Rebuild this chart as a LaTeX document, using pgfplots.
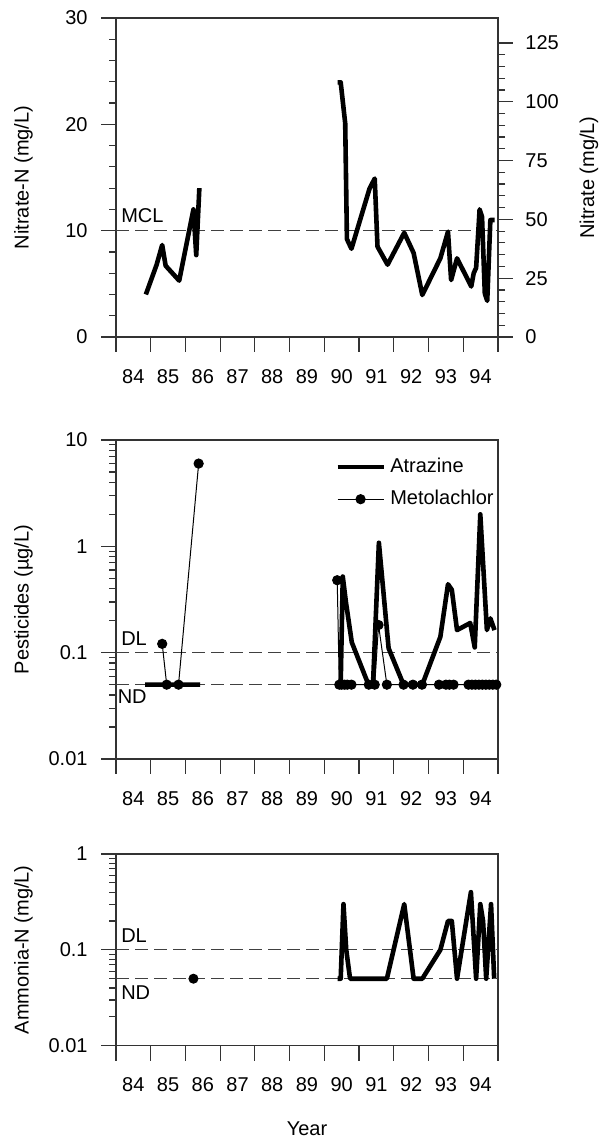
\documentclass[border=0pt]{standalone}
\usepackage{fontspec}
\setmainfont{Liberation Sans}
\usepackage{pgfplots}
\pgfplotsset{compat=1.18}

\newcommand\figfont{\fontsize{10}{12}\selectfont}

\pgfplotsset{
  common/.style={
    scale only axis, width=191pt,
    xmin=1984, xmax=1995,
    xtick={1984,...,1995},
    xticklabels={84,85,86,87,88,89,90,91,92,93,94,{}},
    xtick pos=lower, ytick pos=left,
    tick align=outside,
    major tick length=7.5pt, minor tick length=3.5pt,
    every tick/.style={black!80, line width=0.6pt},
    axis line style={black!80, line width=0.6pt},
    tick label style={font=\figfont},
    label style={font=\figfont},
    /pgf/number format/assume math mode=true,
    x tick label style={xshift=8.68pt, yshift=-5pt},
    y tick label style={xshift=-3.2pt},
    ylabel style={at={(axis description cs:-0.242,0.5)}, anchor=center},
    unbounded coords=jump,
  },
  dashref/.style={black!75, line width=0.5pt, dash pattern=on 6.5pt off 3pt, forget plot},
  thickline/.style={black, line width=2.3pt, line join=round},
  thinmark/.style={black, line width=0.5pt, mark=*, mark size=2.3pt, mark options={solid, fill=black}},
}

\begin{document}
\begin{tikzpicture}
\path[use as bounding box] (0,0) rectangle (300pt,570pt);

% nitrate
\begin{axis}[common, at={(58pt,401.5pt)}, anchor=south west, height=159.5pt,
  ymin=0, ymax=30, ytick={0,10,20,30}, minor y tick num=4,
  ylabel={Nitrate-N (mg/L)}]
\addplot[dashref] coordinates {(1984,10)(1995,10)};
\node[anchor=base west, inner sep=0pt, font=\figfont] at (axis cs:1984.14,10.72) {MCL};
\addplot[thickline] coordinates {
  (1984.86,4.0)(1985.17,6.8)(1985.33,8.65)(1985.43,6.7)(1985.82,5.3)
  (1986.23,12.0)(1986.31,7.7)(1986.40,14.0)
  (1988,nan)
  (1990.38,23.95)(1990.47,23.95)(1990.60,20.1)(1990.65,9.2)(1990.78,8.3)
  (1991.30,13.95)(1991.45,14.9)(1991.53,8.5)(1991.82,6.8)(1992.30,9.8)
  (1992.57,7.9)(1992.82,3.95)(1993.34,7.4)(1993.56,9.9)(1993.65,5.35)
  (1993.82,7.4)(1994.23,4.75)(1994.30,6.0)(1994.37,6.5)(1994.47,12.0)
  (1994.54,11.3)(1994.62,4.1)(1994.69,3.4)(1994.78,11.0)(1994.90,11.0)
};
\end{axis}
\begin{axis}[scale only axis, width=191pt, height=159.5pt,
  at={(58pt,401.5pt)}, anchor=south west,
  xmin=1984, xmax=1995, ymin=0, ymax=135.6,
  axis x line=none, axis y line*=right,
  ytick={0,25,50,75,100,125}, minor y tick num=4,
  tick align=outside,
  major tick length=7.5pt, minor tick length=3.5pt,
  every tick/.style={black!80, line width=0.6pt},
  axis line style={black!80, line width=0.6pt, -},
  tick label style={font=\figfont},
  label style={font=\figfont},
  /pgf/number format/assume math mode=true,
  y tick label style={xshift=2.7pt},
  ylabel={Nitrate (mg/L)},
  ylabel style={at={(axis description cs:1.238,0.5)}, anchor=center, rotate=0}]
\end{axis}

% pesticides
\begin{axis}[common, at={(58pt,190.5pt)}, anchor=south west, height=159.5pt,
  ymode=log, ymin=0.01, ymax=10,
  ytick={0.01,0.1,1,10}, yticklabels={0.01,0.1,1,10},
  minor ytick={0.02,0.03,0.04,0.05,0.06,0.07,0.08,0.09,
               0.2,0.3,0.4,0.5,0.6,0.7,0.8,0.9,
               2,3,4,5,6,7,8,9},
  ylabel={Pesticides (µg/L)},
  legend style={at={(axis description cs:0.573,0.958)}, anchor=north west,
    draw=none, fill=none, inner sep=0pt, row sep=3pt,
    font=\figfont, nodes={inner sep=2.2pt}},
  legend cell align=left,
  legend image code/.code={\draw[mark repeat=2,mark phase=2,#1] plot coordinates {(0pt,0pt)(11.5pt,0pt)(23pt,0pt)};}]
\addplot[dashref] coordinates {(1984,0.1)(1995,0.1)};
\addplot[dashref] coordinates {(1984,0.05)(1995,0.05)};
\node[anchor=base west, inner sep=0pt, font=\figfont] at (axis cs:1984.14,0.118) {DL};
\node[anchor=base west, inner sep=0pt, font=\figfont] at (axis cs:1984.04,0.0334) {ND};
\addplot[thickline] coordinates {
  (1984.84,0.05)(1985.17,0.05)(1985.33,0.05)(1985.46,0.05)(1985.80,0.05)
  (1986.23,0.05)(1986.42,0.05)
  (1988,nan)
  (1990.40,0.05)(1990.47,0.05)(1990.53,0.52)(1990.62,0.30)(1990.79,0.125)
  (1991.27,0.05)(1991.40,0.05)(1991.57,1.08)(1991.85,0.11)(1992.28,0.05)
  (1992.57,0.05)(1992.82,0.05)(1993.34,0.141)(1993.56,0.44)(1993.67,0.39)
  (1993.82,0.163)(1994.20,0.19)(1994.33,0.112)(1994.49,2.0)(1994.68,0.163)
  (1994.78,0.21)(1994.90,0.163)
};
\addlegendentry{Atrazine}
\addplot[thinmark] coordinates {
  (1985.33,0.121)(1985.46,0.05)(1985.80,0.05)(1986.38,6.0)
  (1988,nan)
  (1990.37,0.48)(1990.43,0.05)(1990.50,0.05)(1990.58,0.05)(1990.66,0.05)
  (1990.78,0.05)(1991.28,0.05)(1991.45,0.05)(1991.56,0.182)(1991.80,0.05)
  (1992.28,0.05)(1992.55,0.05)(1992.81,0.05)(1993.30,0.05)(1993.50,0.05)
  (1993.60,0.05)(1993.72,0.05)(1994.15,0.05)(1994.25,0.05)(1994.35,0.05)
  (1994.45,0.05)(1994.55,0.05)(1994.65,0.05)(1994.75,0.05)(1994.85,0.05)
  (1994.95,0.05)
};
\addlegendentry{Metolachlor}
\end{axis}

% ammonia
\begin{axis}[common, at={(58pt,47.15pt)}, anchor=south west, height=95.85pt,
  ymode=log, ymin=0.01, ymax=1,
  ytick={0.01,0.1,1}, yticklabels={0.01,0.1,1},
  minor ytick={0.02,0.03,0.04,0.05,0.06,0.07,0.08,0.09,
               0.2,0.3,0.4,0.5,0.6,0.7,0.8,0.9},
  ylabel={Ammonia-N (mg/L)},
  xlabel={Year},
  xlabel style={at={(axis description cs:0.5,0)}, yshift=-41.6pt, anchor=center}]
\addplot[dashref] coordinates {(1984,0.1)(1995,0.1)};
\addplot[dashref] coordinates {(1984,0.05)(1995,0.05)};
\node[anchor=base west, inner sep=0pt, font=\figfont] at (axis cs:1984.14,0.120) {DL};
\node[anchor=base west, inner sep=0pt, font=\figfont] at (axis cs:1984.14,0.0303) {ND};
\addplot[only marks, mark=*, mark size=2.3pt, black] coordinates {(1986.23,0.05)};
\addplot[thickline] coordinates {
  (1990.38,0.05)(1990.47,0.05)(1990.55,0.30)(1990.63,0.10)(1990.74,0.05)
  (1991.80,0.05)(1992.30,0.30)(1992.57,0.05)(1992.82,0.05)(1993.34,0.10)
  (1993.56,0.20)(1993.67,0.20)(1993.82,0.05)(1994.22,0.40)(1994.37,0.05)
  (1994.49,0.30)(1994.57,0.20)(1994.66,0.05)(1994.80,0.30)(1994.89,0.05)
};
\end{axis}
\end{tikzpicture}
\end{document}
